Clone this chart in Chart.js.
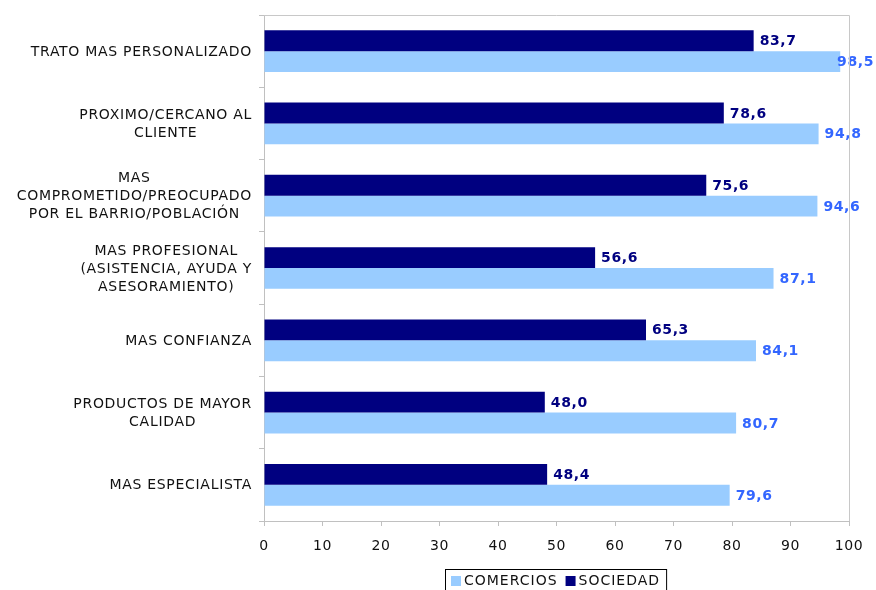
<!DOCTYPE html>
<html>
<head>
<meta charset="utf-8">
<script src="https://cdn.jsdelivr.net/npm/chart.js@4/dist/chart.umd.min.js"></script>
<style>
  html, body { margin: 0; padding: 0; background: #fff; }
  #wrap { width: 876px; height: 590px; }
</style>
</head>
<body>
<div id="wrap"><canvas id="myChart" width="876" height="590"></canvas></div>
<script>
var categorias = [
    ['TRATO MAS PERSONALIZADO'],
    ['PROXIMO/CERCANO AL', 'CLIENTE'],
    ['MAS', 'COMPROMETIDO/PREOCUPADO', 'POR EL BARRIO/POBLACIÓN'],
    ['MAS PROFESIONAL', '(ASISTENCIA, AYUDA Y', 'ASESORAMIENTO)'],
    ['MAS CONFIANZA'],
    ['PRODUCTOS DE MAYOR', 'CALIDAD'],
    ['MAS ESPECIALISTA']
];
var sociedad = [83.7, 78.6, 75.6, 56.6, 65.3, 48.0, 48.4];
var comercios = [98.5, 94.8, 94.6, 87.1, 84.1, 80.7, 79.6];
var ticksX = [0, 10, 20, 30, 40, 50, 60, 70, 80, 90, 100];

var FONT = 'Verdana, "DejaVu Sans", sans-serif';
var gris = '#c0c0c0';

function coma(v) {
    return v.toFixed(1).replace('.', ',');
}

// etiquetas del eje Y: bloque alineado a la derecha, lineas centradas
var etiquetasY = {
    id: 'etiquetasY',
    afterDraw: function(chart) {
        var ctx = chart.ctx;
        var y = chart.scales.y;
        ctx.save();
        ctx.letterSpacing = '0.7px';
        ctx.font = '14px ' + FONT;
        ctx.fillStyle = '#111';
        ctx.textAlign = 'center';
        ctx.textBaseline = 'middle';
        categorias.forEach(function(lineas, i) {
            var cy = y.getPixelForValue(i);
            var ancho = 0;
            lineas.forEach(function(l) { ancho = Math.max(ancho, ctx.measureText(l).width); });
            var cx = y.right - 12 - ancho / 2;
            lineas.forEach(function(l, j) {
                ctx.fillText(l, cx, cy + 1 + (j - (lineas.length - 1) / 2) * 18);
            });
        });
        ctx.restore();
    }
};

// valores al final de cada barra
var valores = {
    id: 'valores',
    afterDatasetsDraw: function(chart) {
        var ctx = chart.ctx;
        ctx.save();
        ctx.letterSpacing = '0.6px';
        ctx.font = 'bold 14px ' + FONT;
        ctx.textBaseline = 'middle';
        ctx.textAlign = 'left';
        chart.data.datasets.forEach(function(ds, d) {
            var meta = chart.getDatasetMeta(d);
            ctx.fillStyle = ds.labelColor;
            meta.data.forEach(function(bar, i) {
                var txt = coma(ds.data[i]);
                var w = ctx.measureText(txt).width;
                var x = Math.min(bar.x + 6, chart.width - w - 2);
                ctx.fillText(txt, x, bar.y + 1);
            });
        });
        ctx.restore();
    }
};

// marco del area de trazado y leyenda con borde
var marco = {
    id: 'marco',
    beforeDraw: function(chart) {
        chart.ctx.letterSpacing = '0.6px';
    },
    afterDraw: function(chart) {
        var ctx = chart.ctx;
        var a = chart.chartArea;
        ctx.save();
        ctx.strokeStyle = '#c8c8c8';
        ctx.lineWidth = 1;
        ctx.beginPath();
        ctx.moveTo(a.left, a.top + 0.5);
        ctx.lineTo(Math.round(a.right) + 0.5, a.top + 0.5);
        ctx.lineTo(Math.round(a.right) + 0.5, a.bottom);
        ctx.stroke();

        // leyenda: COMERCIOS primero
        var items = [chart.data.datasets[1], chart.data.datasets[0]];
        ctx.font = '14px ' + FONT;
        ctx.letterSpacing = '1px';
        ctx.textBaseline = 'middle';
        var caja = 10, gap = 3, sep = 8, pad = 6;
        var total = pad * 2 - sep;
        items.forEach(function(it) { total += caja + gap + ctx.measureText(it.label).width + sep; });
        var x = Math.round(556 - total / 2);
        var top = 569, cy = 581;
        ctx.strokeStyle = '#000';
        ctx.strokeRect(x + 0.5, top + 0.5, total, 30);
        var cx = x + pad;
        items.forEach(function(it) {
            ctx.fillStyle = it.backgroundColor;
            ctx.fillRect(cx, cy - 5, caja, caja);
            cx += caja + gap;
            ctx.fillStyle = '#111';
            ctx.fillText(it.label, cx, cy);
            cx += ctx.measureText(it.label).width + sep;
        });
        ctx.restore();
    }
};

var ctx = document.getElementById('myChart').getContext('2d');
var myChart = new Chart(ctx, {
    type: 'bar',
    data: {
        labels: categorias,
        datasets: [{
            label: 'SOCIEDAD',
            data: sociedad,
            backgroundColor: '#000080',
            labelColor: '#000080',
            categoryPercentage: 0.577,
            barPercentage: 1
        }, {
            label: 'COMERCIOS',
            data: comercios,
            backgroundColor: '#99ccff',
            labelColor: '#3366ff',
            categoryPercentage: 0.577,
            barPercentage: 1
        }]
    },
    options: {
        indexAxis: 'y',
        responsive: false,
        animation: false,
        layout: {
            padding: { top: 15, right: 27, left: 0, bottom: 0 }
        },
        scales: {
            x: {
                min: 0,
                max: 100,
                afterBuildTicks: function(s) {
                    s.ticks = ticksX.map(function(v) { return { value: v }; });
                },
                afterFit: function(s) { s.height = 590 - 521; },
                border: { color: gris },
                grid: { drawOnChartArea: false, color: gris, tickLength: 5 },
                ticks: {
                    color: '#111',
                    padding: 12,
                    font: { family: FONT, size: 14 }
                }
            },
            y: {
                afterFit: function(s) { s.width = 264; },
                border: { color: gris },
                grid: { drawOnChartArea: false, color: gris, tickLength: 5, offset: true },
                ticks: { display: false }
            }
        },
        plugins: {
            legend: { display: false },
            tooltip: { enabled: false }
        }
    },
    plugins: [etiquetasY, valores, marco]
});
</script>
</body>
</html>
